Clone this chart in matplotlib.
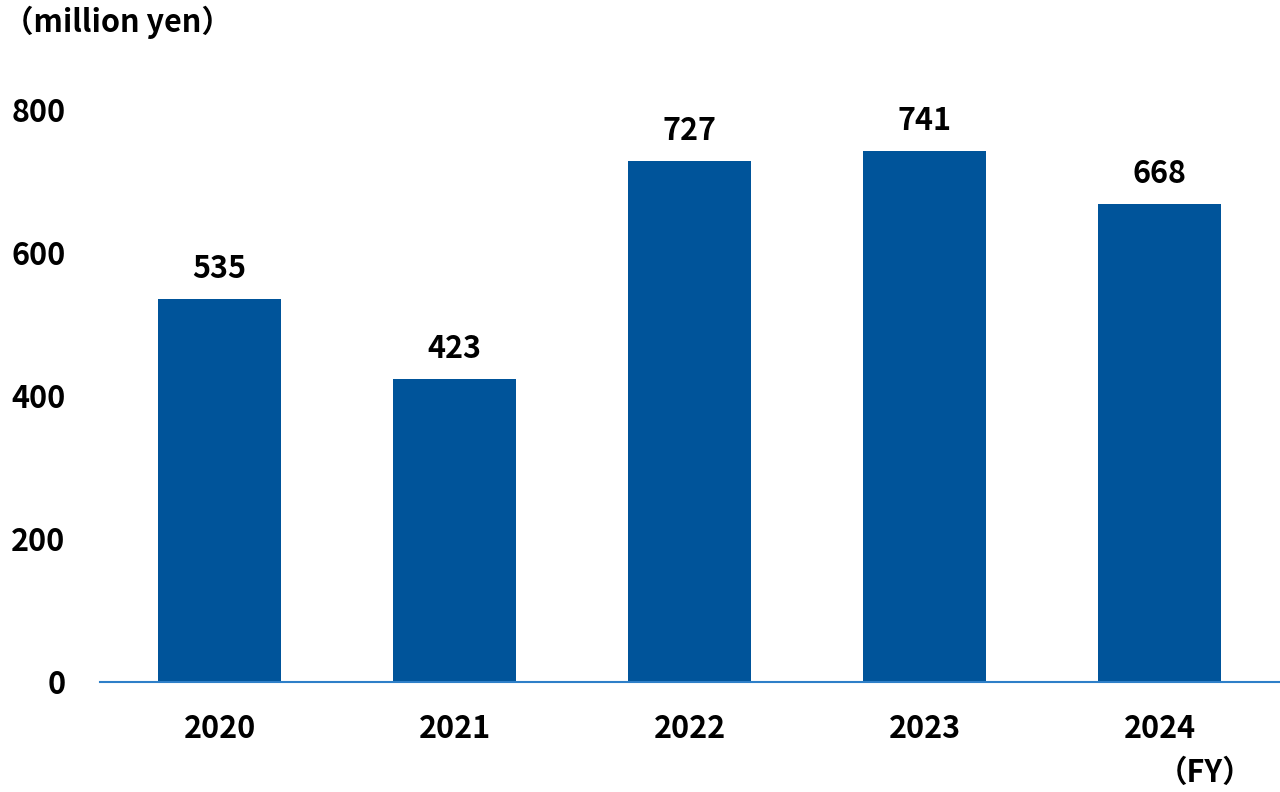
import matplotlib.pyplot as plt

plt.rcParams['font.family'] = ['Noto Sans CJK JP', 'DejaVu Sans']

years = ['2020', '2021', '2022', '2023', '2024']
values = [535, 423, 727, 741, 668]
yticks = [0, 200, 400, 600, 800]

fig = plt.figure(figsize=(12.8, 7.92), dpi=100)
ax = fig.add_axes([100 / 1280, 1 - 682 / 792, 1 - 100 / 1280, (682 - 109) / 792])

x = range(len(years))
bars = ax.bar(x, values, width=0.523, color='#00549A', zorder=2)
for xi, v in zip(x, values):
    ax.annotate(str(v), (xi, v), xytext=(0, 10), textcoords='offset points',
                ha='center', va='bottom', fontsize=22, fontweight='bold')

ax.set_xlim(-0.509, 4.513)
ax.set_ylim(0, 800)
ax.set_xticks(list(x))
ax.set_xticklabels(years, fontsize=22, fontweight='bold')
ax.set_yticks(yticks)
ax.set_yticklabels([str(t) for t in yticks], fontsize=22, fontweight='bold')
ax.tick_params(axis='both', length=0)
ax.tick_params(axis='x', pad=22)
ax.tick_params(axis='y', pad=25)

for s in ['top', 'right', 'left']:
    ax.spines[s].set_visible(False)
ax.spines['bottom'].set_color('#2E7FC8')
ax.spines['bottom'].set_linewidth(1.5)

fig.text(0.002, 1 - 22 / 792, '（million yen）', fontsize=22, fontweight='bold',
         ha='left', va='center')
fig.text(1205 / 1280, 1 - 773 / 792, '（FY）', fontsize=22, fontweight='bold',
         ha='center', va='center')

fig.savefig('out.png', dpi=100)
